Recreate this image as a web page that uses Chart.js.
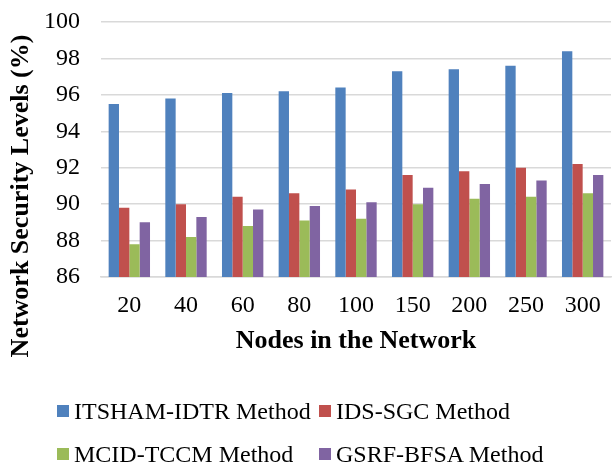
<!DOCTYPE html>
<html lang="en">
<head>
    <meta charset="UTF-8">
    <title>Network Security Levels</title>
    <script src="https://cdn.jsdelivr.net/npm/chart.js"></script>
    <style>
        body { margin: 0; background: #fff; }
        #wrap { position: relative; width: 615px; height: 463px; }
        #legend { position: absolute; left: 0; top: 0; width: 615px; height: 463px; pointer-events: none;
                  font-family: "Liberation Serif", "Times New Roman", serif; font-size: 24px; color: #000; }
        .item { position: absolute; display: flex; align-items: center; white-space: nowrap; height: 28px; }
        .box { width: 12px; height: 12px; margin-right: 5px; }
    </style>
</head>
<body>
<div id="wrap">
    <canvas id="myChart" width="615" height="463"></canvas>
    <div id="legend"></div>
</div>
<script>
const labels = ['20', '40', '60', '80', '100', '150', '200', '250', '300'];
const seriesNames = ['ITSHAM-IDTR Method', 'IDS-SGC Method', 'MCID-TCCM Method', 'GSRF-BFSA Method'];
const itsham = [95.5, 95.8, 96.1, 96.2, 96.4, 97.3, 97.4, 97.6, 98.4];
const idsSgc = [89.8, 90.0, 90.4, 90.6, 90.8, 91.6, 91.8, 92.0, 92.2];
const mcidTccm = [87.8, 88.2, 88.8, 89.1, 89.2, 90.0, 90.3, 90.4, 90.6];
const gsrfBfsa = [89.0, 89.3, 89.7, 89.9, 90.1, 90.9, 91.1, 91.3, 91.6];
const colors = ['#4F81BD', '#C0504D', '#9BBB59', '#8064A2'];
const yTitle = 'Network Security Levels (%)';
const xTitle = 'Nodes in the Network';

const font = '"Liberation Serif", "Times New Roman", serif';
const values = [itsham, idsSgc, mcidTccm, gsrfBfsa];

// y axis title drawn by hand so it sits where the original has it
const yTitlePlugin = {
    id: 'yTitle',
    afterDraw(chart) {
        const c = chart.ctx;
        c.save();
        c.translate(21, 196);
        c.rotate(-Math.PI / 2);
        c.font = 'bold 26px ' + font;
        c.fillStyle = '#000';
        c.textAlign = 'center';
        c.textBaseline = 'middle';
        c.fillText(yTitle, 0, 0);
        c.restore();
    }
};

const ctx = document.getElementById('myChart');
new Chart(ctx, {
    type: 'bar',
    data: {
        labels: labels,
        datasets: values.map((v, i) => ({
            label: seriesNames[i],
            data: v,
            backgroundColor: colors[i],
            borderWidth: 0,
            categoryPercentage: 0.73,
            barPercentage: 1
        }))
    },
    options: {
        responsive: false,
        animation: false,
        layout: { padding: { top: 22, right: 4, bottom: 106, left: 0 } },
        plugins: { legend: { display: false }, tooltip: { enabled: false } },
        scales: {
            x: {
                grid: { display: false, drawTicks: false },
                border: { color: '#d9d9d9', width: 1.5 },
                ticks: { color: '#000', padding: 14, font: { family: font, size: 24 } },
                title: { display: true, text: xTitle, color: '#000', padding: { top: 0, bottom: 0 },
                         font: { family: font, size: 26, weight: 'bold' } },
                afterFit(scale) { scale.height = 80; }
            },
            y: {
                min: 86,
                max: 100,
                ticks: { stepSize: 2, color: '#000', padding: 21, font: { family: font, size: 24 } },
                grid: { color: '#d9d9d9', lineWidth: 1.5, drawTicks: false },
                border: { display: false },
                afterFit(scale) {
                    scale.width = 101;
                    // tick padding would otherwise push the plot top down
                    scale.paddingTop = 0;
                    scale.paddingBottom = 0;
                }
            }
        }
    },
    plugins: [yTitlePlugin]
});

// legend laid out in two columns like the original
const legend = document.getElementById('legend');
const cols = [57, 319];
const rows = [397, 440];
seriesNames.forEach((name, i) => {
    const item = document.createElement('div');
    item.className = 'item';
    item.style.left = cols[i % 2] + 'px';
    item.style.top = rows[Math.floor(i / 2)] + 'px';
    const box = document.createElement('span');
    box.className = 'box';
    box.style.background = colors[i];
    const txt = document.createElement('span');
    txt.textContent = name;
    item.appendChild(box);
    item.appendChild(txt);
    legend.appendChild(item);
});
</script>
</body>
</html>
